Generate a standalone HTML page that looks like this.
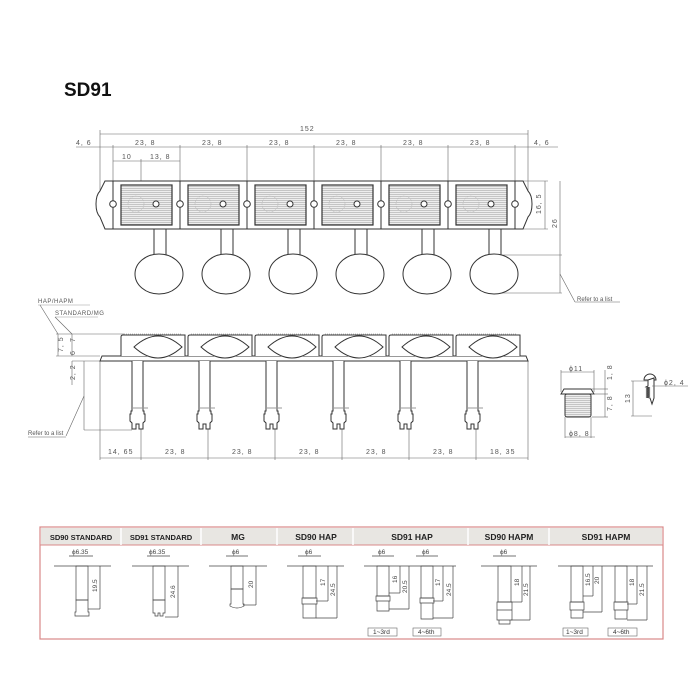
<!DOCTYPE html>
<html><head><meta charset="utf-8"><style>
html,body{margin:0;padding:0;background:#fff;}
svg{display:block;font-family:"Liberation Sans",sans-serif;}
.d{font-size:7px;fill:#555;letter-spacing:1px}
.s{font-size:6px;fill:#555}
.h{font-size:8.5px;font-weight:bold;fill:#222;text-anchor:middle}
</style></head><body>
<svg width="700" height="700" viewBox="0 0 700 700" xmlns="http://www.w3.org/2000/svg">
<defs>
<pattern id="st" width="4" height="2" patternUnits="userSpaceOnUse"><rect width="4" height="2" fill="#eee"/><rect width="4" height="0.8" fill="#bbb"/></pattern>
<g id="unit">
  <path d="M0,181 h67 v48 h-67 z" fill="#fff" stroke="#333" stroke-width="1"/>
  <rect x="8" y="185" width="51" height="40" fill="url(#st)" stroke="#333" stroke-width="1.2"/>
  <circle cx="23" cy="204" r="8" fill="none" stroke="#bbb" stroke-width="0.6" stroke-dasharray="2,1"/>
  <circle cx="43" cy="204" r="3" fill="#fff" stroke="#333"/>
  <rect x="41" y="229" width="12" height="26" fill="#fff" stroke="#333"/>
  <ellipse cx="46" cy="274" rx="24" ry="20" fill="#fff" stroke="#333"/>
</g>
<g id="side">
  <path d="M21,356 v-19 q0,-2 2,-2 h62 v21" fill="#fff" stroke="#333"/>
  <line x1="24" y1="334" x2="82" y2="334" stroke="#bbb" stroke-dasharray="1,1"/>
  <path d="M34,347 q24,-22 48,0 q-24,22 -48,0z" fill="#fff" stroke="#333"/>
  <path d="M32,361 v50 h-1 v3 l-1,0 v7 l2,2 v6 h4 v-5 h3 v5 h4 v-6 l2,-2 v-7 h-1 v-3 h-1 v-50" fill="#fff" stroke="#333"/>
  <line x1="33" y1="408" x2="48" y2="408" stroke="#999"/>
</g>
</defs>

<text x="64" y="96" font-size="19" font-weight="bold" fill="#111">SD91</text>

<g stroke="#666" stroke-width="0.6" fill="none">
<line x1="100" y1="134" x2="528" y2="134"/>
<line x1="76" y1="147" x2="558" y2="147"/>
<line x1="113" y1="161" x2="180" y2="161"/>
<line x1="100" y1="130" x2="100" y2="210"/><line x1="528" y1="130" x2="528" y2="210"/>
<line x1="113" y1="145" x2="113" y2="190"/><line x1="180" y1="145" x2="180" y2="185"/>
<line x1="247" y1="145" x2="247" y2="185"/><line x1="314" y1="145" x2="314" y2="185"/>
<line x1="381" y1="145" x2="381" y2="185"/><line x1="448" y1="145" x2="448" y2="185"/>
<line x1="515" y1="145" x2="515" y2="190"/>
<line x1="141" y1="159" x2="141" y2="204"/>
<line x1="515" y1="181" x2="548" y2="181"/><line x1="515" y1="229" x2="548" y2="229"/>
<line x1="545" y1="181" x2="545" y2="229"/>
<line x1="560" y1="181" x2="560" y2="293"/>
<line x1="500" y1="255" x2="562" y2="255"/><line x1="500" y1="293" x2="562" y2="293"/>
<line x1="560" y1="274" x2="575" y2="302"/><line x1="575" y1="302" x2="620" y2="302"/>
</g>
<g class="d">
<text x="300" y="131">152</text>
<text x="76" y="145">4, 6</text><text x="534" y="145">4, 6</text>
<text x="135" y="145">23, 8</text><text x="202" y="145">23, 8</text><text x="269" y="145">23, 8</text><text x="336" y="145">23, 8</text><text x="403" y="145">23, 8</text><text x="470" y="145">23, 8</text>
<text x="122" y="159">10</text><text x="150" y="159">13, 8</text>
<text transform="translate(541,214) rotate(-90)">16, 5</text>
<text transform="translate(557,228) rotate(-90)">26</text>
</g>
<text x="577" y="301" class="s">Refer to a list</text>

<path d="M113,181 h-8 l-5,10 q-4,4 -4,13 q0,9 4,13 l5,12 h8z" fill="#fff" stroke="#333"/>
<path d="M515,181 h8 l5,10 q4,4 4,13 q0,9 -4,13 l-5,12 h-8z" fill="#fff" stroke="#333"/>
<use href="#unit" x="113"/><use href="#unit" x="180"/><use href="#unit" x="247"/>
<use href="#unit" x="314"/><use href="#unit" x="381"/><use href="#unit" x="448"/>
<g fill="#fff" stroke="#333">
<circle cx="113" cy="204" r="3.3"/><circle cx="180" cy="204" r="3.3"/><circle cx="247" cy="204" r="3.3"/><circle cx="314" cy="204" r="3.3"/><circle cx="381" cy="204" r="3.3"/><circle cx="448" cy="204" r="3.3"/><circle cx="515" cy="204" r="3.3"/>
</g>

<text x="38" y="303" class="s" letter-spacing="0.5">HAP/HAPM</text>
<line x1="38" y1="305" x2="90" y2="305" stroke="#999" stroke-width="0.6"/>
<text x="55" y="315" class="s" letter-spacing="0.5">STANDARD/MG</text>
<line x1="55" y1="317" x2="98" y2="317" stroke="#999" stroke-width="0.6"/>
<g stroke="#666" stroke-width="0.6" fill="none">
<line x1="40" y1="305" x2="58" y2="334"/><line x1="55" y1="317" x2="72" y2="334"/>
<line x1="58" y1="334" x2="58" y2="356"/><line x1="72" y1="334" x2="72" y2="356"/>
<line x1="56" y1="334" x2="125" y2="334"/><line x1="56" y1="356" x2="100" y2="356"/>
<line x1="72" y1="361" x2="100" y2="361"/><line x1="72" y1="361" x2="72" y2="385"/>
<line x1="84" y1="361" x2="84" y2="430"/><line x1="84" y1="430" x2="132" y2="430"/>
<line x1="84" y1="396" x2="66" y2="436"/><line x1="28" y1="437" x2="66" y2="437"/>
<line x1="100" y1="361" x2="100" y2="460"/><line x1="528" y1="361" x2="528" y2="460"/>
<line x1="100" y1="458" x2="528" y2="458"/>
<line x1="141" y1="420" x2="141" y2="460"/><line x1="208" y1="420" x2="208" y2="460"/><line x1="275" y1="420" x2="275" y2="460"/><line x1="342" y1="420" x2="342" y2="460"/><line x1="409" y1="420" x2="409" y2="460"/><line x1="476" y1="420" x2="476" y2="460"/>
</g>
<g class="d">
<text transform="translate(63,352) rotate(-90)">7, 5</text>
<text transform="translate(75,342) rotate(-90)">7</text>
<text transform="translate(75,355) rotate(-90)">6</text>
<text transform="translate(75,380) rotate(-90)">2, 2</text>
<text x="108" y="454">14, 65</text><text x="165" y="454">23, 8</text><text x="232" y="454">23, 8</text><text x="299" y="454">23, 8</text><text x="366" y="454">23, 8</text><text x="433" y="454">23, 8</text><text x="490" y="454">18, 35</text>
</g>
<text x="28" y="435" class="s">Refer to a list</text>
<path d="M100,361 l2,-5 h424 l2,5z" fill="#fff" stroke="#333"/>
<use href="#side" x="100"/><use href="#side" x="167"/><use href="#side" x="234"/>
<use href="#side" x="301"/><use href="#side" x="368"/><use href="#side" x="435"/>

<g stroke="#333" fill="#fff">
<path d="M561,394 l3,-5 h27 l3,5z"/>
<rect x="565" y="394" width="26" height="23" rx="2" fill="url(#st)"/>
<path d="M644,380 a6,6 0 0 1 12,0z"/>
<path d="M648,380 v6 l-2,1 l4,1 l-4,1 l4,1 l-4,1 l4,1 l-4,1 l4,1 l-4,1 l4,1 l-4,1 l4,1 l2,6 l2,-6 l0,-20z"/>
</g>
<g stroke="#666" stroke-width="0.6" fill="none">
<line x1="561" y1="372" x2="594" y2="372"/><line x1="561" y1="370" x2="561" y2="392"/><line x1="594" y1="370" x2="594" y2="392"/>
<line x1="605" y1="370" x2="605" y2="417"/><line x1="592" y1="389" x2="608" y2="389"/><line x1="592" y1="394" x2="608" y2="394"/><line x1="592" y1="417" x2="608" y2="417"/>
<line x1="565" y1="417" x2="565" y2="438"/><line x1="591" y1="417" x2="591" y2="438"/><line x1="565" y1="437" x2="595" y2="437"/>
<line x1="633" y1="381" x2="633" y2="416"/><line x1="631" y1="381" x2="648" y2="381"/><line x1="631" y1="416" x2="652" y2="416"/>
<line x1="652" y1="386" x2="688" y2="386"/>
</g>
<g class="d">
<text x="569" y="371">ϕ11</text><text x="569" y="436">ϕ8, 8</text>
<text transform="translate(612,380) rotate(-90)">1, 8</text>
<text transform="translate(612,411) rotate(-90)">7, 8</text>
<text transform="translate(630,403) rotate(-90)">13</text>
<text x="664" y="385">ϕ2, 4</text>
</g>

<!-- table -->
<rect x="40" y="527" width="623" height="112" fill="#fff" stroke="#d98888" stroke-width="1.2"/>
<rect x="41" y="528" width="621" height="17" fill="#e8e6e2"/>
<line x1="40" y1="545" x2="663" y2="545" stroke="#d98888"/>
<g stroke="#fff" stroke-width="1.5">
<line x1="121" y1="528" x2="121" y2="545"/><line x1="201" y1="528" x2="201" y2="545"/><line x1="277" y1="528" x2="277" y2="545"/><line x1="353" y1="528" x2="353" y2="545"/><line x1="468" y1="528" x2="468" y2="545"/><line x1="549" y1="528" x2="549" y2="545"/>
</g>
<g class="h">
<text x="81" y="540" font-size="7.5">SD90 STANDARD</text><text x="161" y="540" font-size="7.5">SD91 STANDARD</text>
<text x="238" y="540">MG</text><text x="316" y="540">SD90 HAP</text><text x="412" y="540">SD91 HAP</text>
<text x="509" y="540">SD90 HAPM</text><text x="606" y="540">SD91 HAPM</text>
</g>
<g stroke="#444" stroke-width="0.7" fill="none">
<line x1="54" y1="566" x2="111" y2="566"/><line x1="132" y1="566" x2="189" y2="566"/><line x1="209" y1="566" x2="267" y2="566"/>
<line x1="287" y1="566" x2="344" y2="566"/><line x1="364" y1="566" x2="456" y2="566"/>
<line x1="481" y1="566" x2="537" y2="566"/><line x1="558" y1="566" x2="653" y2="566"/>
<!-- stems -->
<rect x="76" y="566" width="12" height="34"/><path d="M76,600 h12 v12 l1,0 v4 h-14 v-4 l1,0z"/>
<rect x="153" y="566" width="12" height="34"/><path d="M153,600 h12 v13 h-2 v3 h-3 v-3 h-2 v3 h-3 v-3 h-2z"/>
<rect x="231" y="566" width="12" height="23"/><path d="M231,589 h12 v15 h1 v2 q-7,4 -14,0 v-2 h1z"/>
<rect x="303" y="566" width="13" height="32"/><path d="M302,598 h15 v6 h-15z M303,604 h13 v14 h-13z"/>
<rect x="377" y="566" width="12" height="30"/><path d="M376,596 h14 v5 h-14z M377,601 h12 v10 h-12z"/>
<rect x="421" y="566" width="12" height="32"/><path d="M420,598 h14 v5 h-14z M421,603 h12 v16 h-12z"/>
<rect x="498" y="566" width="13" height="36"/><path d="M497,602 h15 v8 h-15z M497,610 h15 v10 h-15z M499,620 h11 v4 h-11z"/>
<rect x="571" y="566" width="12" height="36"/><path d="M570,602 h14 v8 h-14z M571,610 h12 v8 h-12z"/>
<rect x="615" y="566" width="12" height="36"/><path d="M614,602 h14 v8 h-14z M615,610 h12 v9 h-12z"/>
<!-- dim lines -->
<line x1="100" y1="566" x2="100" y2="609"/><line x1="88" y1="609" x2="100" y2="609"/>
<line x1="178" y1="566" x2="178" y2="617"/><line x1="165" y1="617" x2="178" y2="617"/>
<line x1="256" y1="566" x2="256" y2="605"/><line x1="243" y1="605" x2="256" y2="605"/>
<line x1="328" y1="566" x2="328" y2="601"/><line x1="337" y1="566" x2="337" y2="618"/><line x1="316" y1="601" x2="328" y2="601"/><line x1="316" y1="618" x2="337" y2="618"/>
<line x1="400" y1="566" x2="400" y2="593"/><line x1="409" y1="566" x2="409" y2="609"/><line x1="389" y1="593" x2="400" y2="593"/><line x1="389" y1="609" x2="409" y2="609"/>
<line x1="443" y1="566" x2="443" y2="601"/><line x1="453" y1="566" x2="453" y2="618"/><line x1="433" y1="601" x2="443" y2="601"/><line x1="433" y1="618" x2="453" y2="618"/>
<line x1="522" y1="566" x2="522" y2="602"/><line x1="530" y1="566" x2="530" y2="620"/><line x1="511" y1="602" x2="522" y2="602"/><line x1="511" y1="620" x2="530" y2="620"/>
<line x1="593" y1="566" x2="593" y2="596"/><line x1="602" y1="566" x2="602" y2="612"/><line x1="583" y1="596" x2="593" y2="596"/><line x1="583" y1="612" x2="602" y2="612"/>
<line x1="637" y1="566" x2="637" y2="604"/><line x1="647" y1="566" x2="647" y2="620"/><line x1="627" y1="604" x2="637" y2="604"/><line x1="627" y1="620" x2="647" y2="620"/>
<!-- phi dims -->
<line x1="69" y1="556" x2="93" y2="556"/><line x1="147" y1="556" x2="170" y2="556"/><line x1="226" y1="556" x2="248" y2="556"/>
<line x1="298" y1="556" x2="321" y2="556"/><line x1="372" y1="556" x2="394" y2="556"/><line x1="416" y1="556" x2="438" y2="556"/><line x1="493" y1="556" x2="516" y2="556"/>
</g>
<g font-size="6.5" fill="#444">
<text x="72" y="554">ϕ6.35</text><text x="149" y="554">ϕ6.35</text><text x="232" y="554">ϕ6</text><text x="305" y="554">ϕ6</text>
<text x="378" y="554">ϕ6</text><text x="422" y="554">ϕ6</text><text x="500" y="554">ϕ6</text>
<text transform="translate(97,592) rotate(-90)">19.5</text>
<text transform="translate(175,598) rotate(-90)">24.6</text>
<text transform="translate(253,588) rotate(-90)">20</text>
<text transform="translate(325,586) rotate(-90)">17</text><text transform="translate(335,596) rotate(-90)">24.5</text>
<text transform="translate(397,583) rotate(-90)">16</text><text transform="translate(407,593) rotate(-90)">20.5</text>
<text transform="translate(440,586) rotate(-90)">17</text><text transform="translate(451,596) rotate(-90)">24.5</text>
<text transform="translate(519,586) rotate(-90)">18</text><text transform="translate(528,596) rotate(-90)">21.5</text>
<text transform="translate(590,586) rotate(-90)">16.5</text><text transform="translate(599,584) rotate(-90)">20</text>
<text transform="translate(634,586) rotate(-90)">18</text><text transform="translate(644,596) rotate(-90)">21.5</text>
</g>
<g fill="#fff" stroke="#666" stroke-width="0.6">
<rect x="368" y="628" width="29" height="8"/><rect x="413" y="628" width="28" height="8"/>
<rect x="563" y="628" width="25" height="8"/><rect x="608" y="628" width="29" height="8"/>
</g>
<g font-size="6.5" fill="#333">
<text x="373" y="634">1~3rd</text><text x="418" y="634">4~6th</text><text x="566" y="634">1~3rd</text><text x="613" y="634">4~6th</text>
</g>
</svg>
</body></html>
